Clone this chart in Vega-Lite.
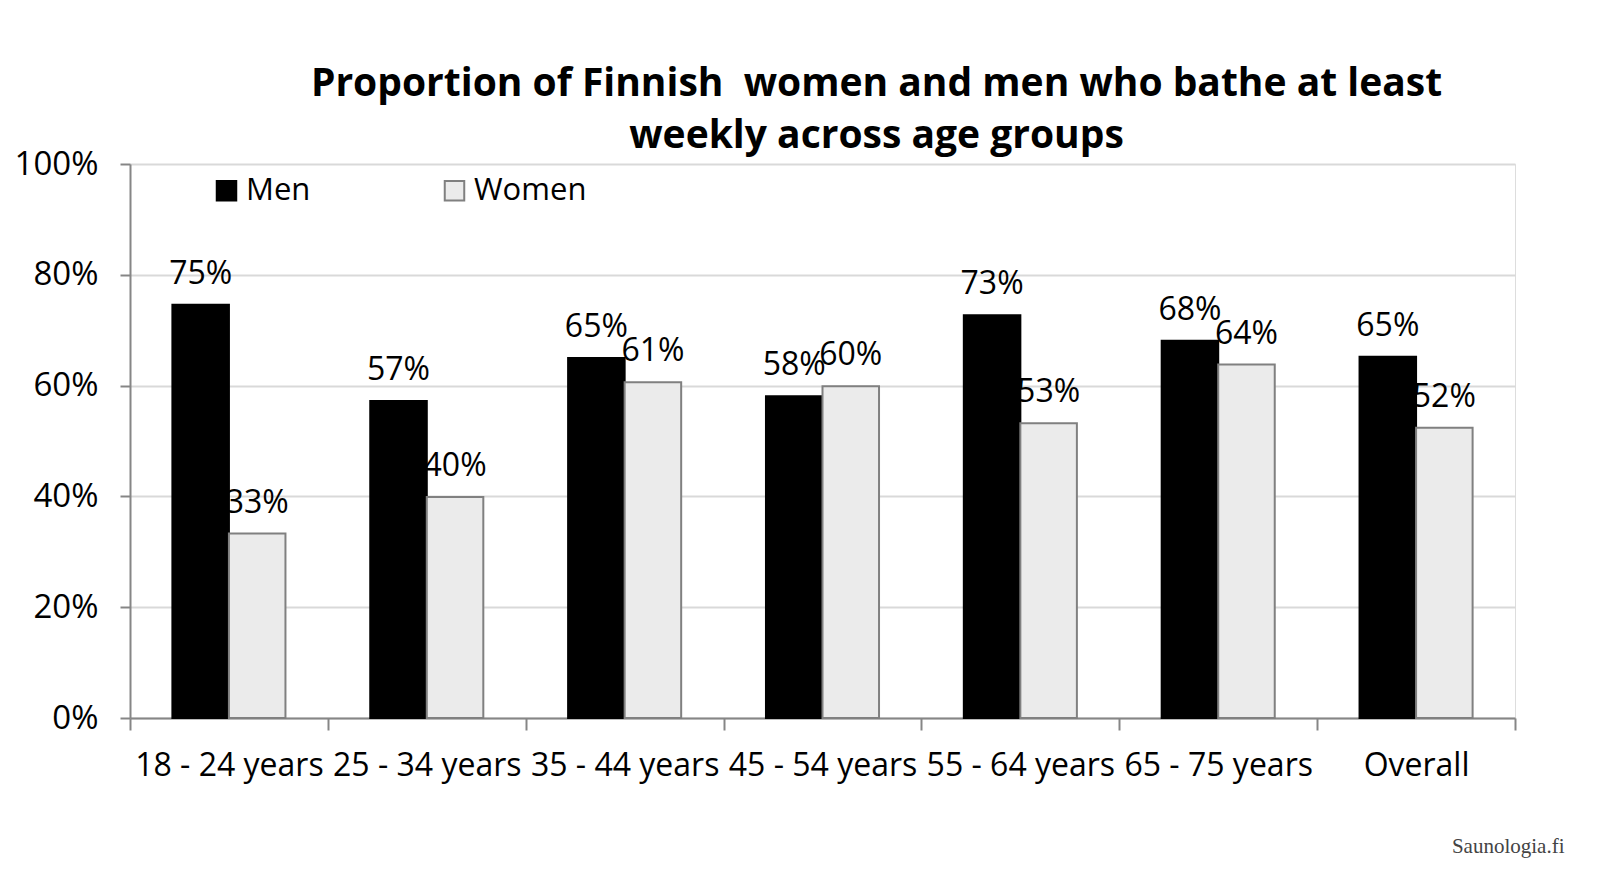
{
  "$schema": "https://vega.github.io/schema/vega-lite/v6.json",
  "width": 1385,
  "height": 554,
  "autosize": {"type": "none"},
  "padding": {"left": 130, "top": 164, "right": 85, "bottom": 152},
  "background": "white",
  "title": {
    "text": ["Proportion of Finnish \u00a0women and men who bathe at least", "weekly across age groups"],
    "font": "Open Sans",
    "fontWeight": "bold",
    "fontSize": 39,
    "color": "#000000",
    "lineHeight": 52,
    "anchor": "middle",
    "dx": 54,
    "offset": -8
  },
  "data": {
    "values": [
      {"group": "18 - 24 years", "sex": "Men", "value": 0.746},
      {"group": "18 - 24 years", "sex": "Women", "value": 0.333},
      {"group": "25 - 34 years", "sex": "Men", "value": 0.572},
      {"group": "25 - 34 years", "sex": "Women", "value": 0.399},
      {"group": "35 - 44 years", "sex": "Men", "value": 0.650},
      {"group": "35 - 44 years", "sex": "Women", "value": 0.606},
      {"group": "45 - 54 years", "sex": "Men", "value": 0.581},
      {"group": "45 - 54 years", "sex": "Women", "value": 0.599},
      {"group": "55 - 64 years", "sex": "Men", "value": 0.727},
      {"group": "55 - 64 years", "sex": "Women", "value": 0.532},
      {"group": "65 - 75 years", "sex": "Men", "value": 0.681},
      {"group": "65 - 75 years", "sex": "Women", "value": 0.638},
      {"group": "Overall", "sex": "Men", "value": 0.652},
      {"group": "Overall", "sex": "Women", "value": 0.524}
    ]
  },
  "encoding": {
    "x": {
      "field": "group",
      "type": "nominal",
      "sort": null,
      "scale": {"paddingInner": 0, "paddingOuter": 0},
      "axis": {
        "title": "Saunologia.fi",
        "titleFont": "Liberation Serif",
        "titleFontSize": 21,
        "titleFontWeight": "normal",
        "titleColor": "#444444",
        "titleAnchor": "end",
        "titleAlign": "right",
        "titleBaseline": "alphabetic",
        "titleX": 1434,
        "titleY": 134,
        "labelAngle": 0,
        "labelFont": "Open Sans",
        "labelFontSize": 32,
        "labelColor": "#000000",
        "labelPadding": 20,
        "labelLimit": 300,
        "tickBand": "extent",
        "tickSize": 12,
        "tickColor": "#868686",
        "tickWidth": 2,
        "domainColor": "#868686",
        "domainWidth": 2,
        "grid": false
      }
    },
    "xOffset": {
      "field": "sex",
      "type": "nominal",
      "scale": {"paddingInner": 0, "paddingOuter": 0.75}
    },
    "y": {
      "field": "value",
      "type": "quantitative",
      "scale": {"domain": [0, 1]},
      "axis": {
        "title": null,
        "format": ".0%",
        "values": [0, 0.2, 0.4, 0.6, 0.8, 1],
        "labelFont": "Open Sans",
        "labelFontSize": 33,
        "labelColor": "#000000",
        "labelPadding": 22,
        "tickSize": 10,
        "tickColor": "#868686",
        "tickWidth": 2,
        "domainColor": "#868686",
        "domainWidth": 2,
        "grid": true,
        "gridColor": "#d9d9d9",
        "gridWidth": 2
      }
    }
  },
  "layer": [
    {
      "mark": {"type": "bar", "strokeWidth": 2},
      "encoding": {
        "fill": {
          "field": "sex",
          "type": "nominal",
          "scale": {"domain": ["Men", "Women"], "range": ["#000000", "#ebebeb"]},
          "legend": {
            "title": null,
            "orient": "none",
            "legendX": 81,
            "legendY": 11,
            "direction": "horizontal",
            "symbolType": "square",
            "symbolSize": 380,
            "symbolStrokeWidth": 2,
            "labelFont": "Open Sans",
            "labelFontSize": 31,
            "labelColor": "#000000",
            "labelOffset": 4,
            "columnPadding": 128
          }
        },
        "stroke": {
          "field": "sex",
          "type": "nominal",
          "scale": {"domain": ["Men", "Women"], "range": ["#000000", "#808080"]},
          "legend": null
        }
      }
    },
    {
      "mark": {
        "type": "text",
        "font": "Open Sans",
        "fontSize": 32,
        "color": "#000000",
        "baseline": "alphabetic",
        "dy": -21
      },
      "encoding": {
        "text": {"field": "value", "type": "quantitative", "format": ".0%"}
      }
    }
  ]
}
